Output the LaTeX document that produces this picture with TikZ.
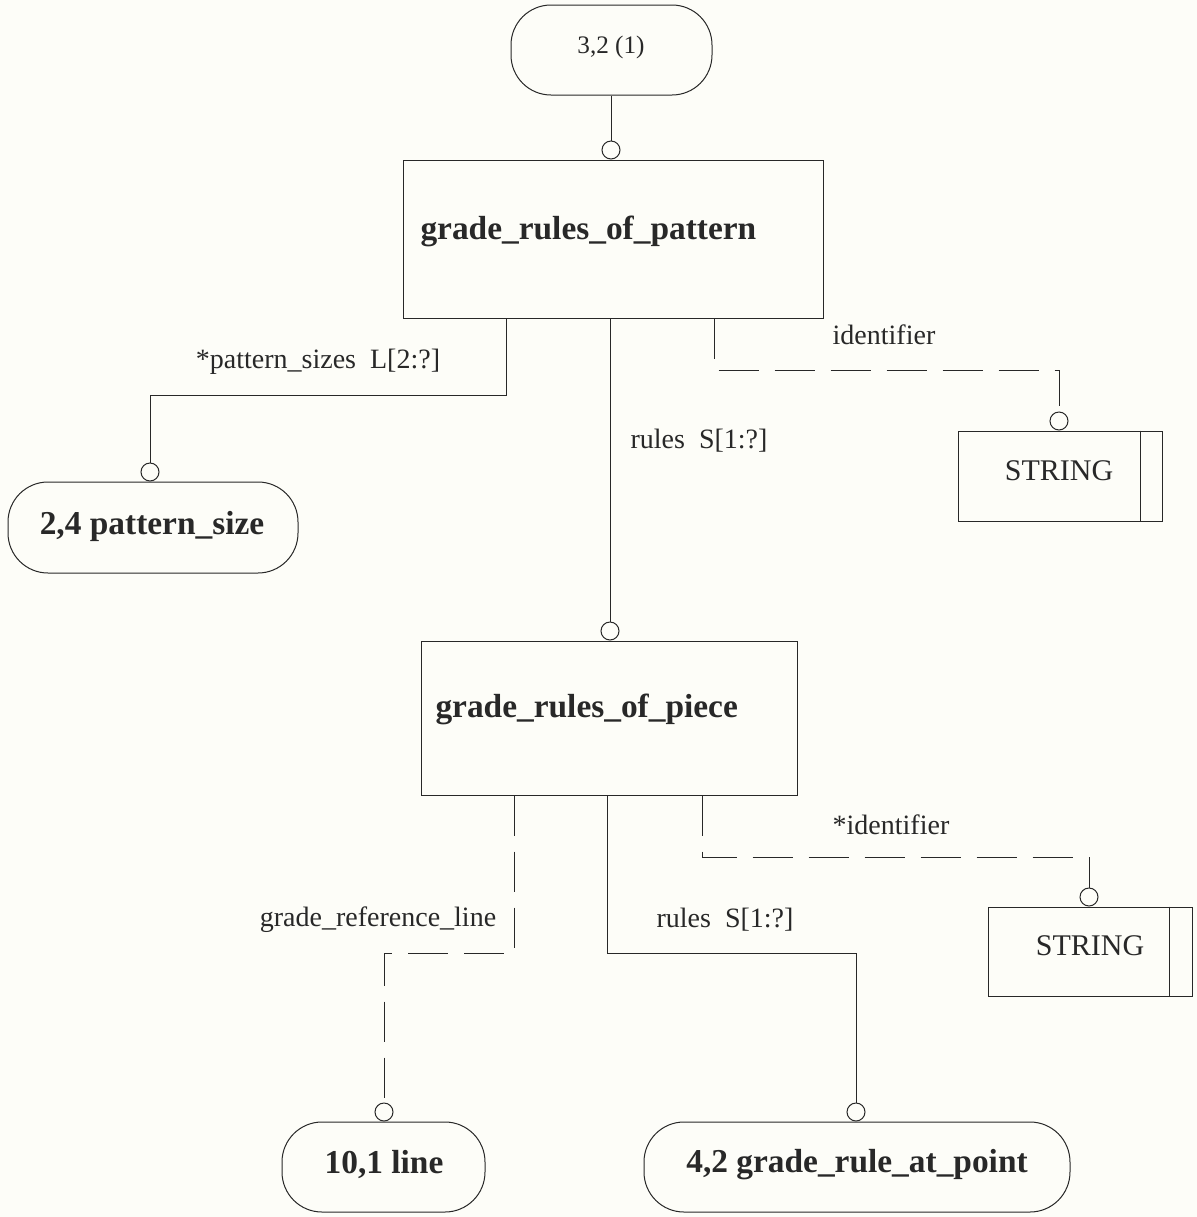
\documentclass[tikz,border=0pt]{standalone}
\usepackage{fontspec}
\setmainfont{Liberation Serif}
\usetikzlibrary{calc}
\definecolor{paper}{RGB}{253,253,248}
\definecolor{ink}{RGB}{40,40,40}
\newcommand\lblsize{\fontsize{14}{16}\selectfont}
\newcommand\boldsize{\fontsize{16.7}{19}\selectfont\bfseries}
\begin{document}
\begin{tikzpicture}[x=0.5pt,y=-0.5pt,
  line width=0.5pt, color=ink,
  entity/.style={draw, rectangle, inner sep=0pt, fill=paper},
  typebox/.style={draw, rectangle, inner sep=0pt, fill=paper, minimum width=102pt, minimum height=45pt},
  refbox/.style={draw, rectangle, rounded corners=20pt, inner sep=0pt, fill=paper, minimum height=45pt},
  knob/.style={draw, circle, inner sep=0pt, minimum size=9pt, fill=paper, anchor=south},
  lbl/.style={inner sep=0pt, font=\lblsize, text=ink},
  bold/.style={inner sep=0pt, font=\boldsize, text=ink},
  optional/.style={dash pattern=on 20pt off 8pt}
]
% page
\fill[paper] (0,0) rectangle (1197,1217);
\useasboundingbox (0,0) rectangle (1197,1217);

% boxes
\node[refbox, minimum width=100.5pt] (top) at (611.5,50) {};
\node[lbl, font=\fontsize{12.6}{14}\selectfont] (toptext) at (611,47) {3,2 (1)};

\node[entity, minimum width=210pt, minimum height=79pt] (gp) at (613,239) {};
\node[bold, anchor=west] (gptext) at (420,231) {grade\_rules\_of\_pattern};

\node[refbox, minimum width=145pt, minimum height=45.5pt] (ps) at (153,527.5) {};
\node[bold] (pstext) at (152,526) {2,4 pattern\_size};

\node[typebox] (s1) at (1060,476) {};
\draw (s1.north east) ++(-11pt,0) -- ($(s1.south east)+(-11pt,0)$);
\node[lbl, font=\fontsize{15}{17}\selectfont] (s1text) at (1059,471) {STRING};

\node[entity, minimum width=188pt, minimum height=77pt] (gpc) at (609,718) {};
\node[bold, anchor=west] (gpctext) at (435,709) {grade\_rules\_of\_piece};

\node[typebox, minimum height=44.5pt] (s2) at (1090,951.5) {};
\draw (s2.north east) ++(-11.5pt,0) -- ($(s2.south east)+(-11.5pt,0)$);
\node[lbl, font=\fontsize{15}{17}\selectfont] (s2text) at (1090,946) {STRING};

\node[refbox, minimum width=101.5pt] (ln) at (383.5,1167) {};
\node[bold] (lntext) at (384,1164) {10,1 line};

\node[refbox, minimum width=213pt] (gr) at (857,1167) {};
\node[bold] (grtext) at (857,1165) {4,2 grade\_rule\_at\_point};

% knobs on the receiving ends
\node[knob] (k0) at (gp.north -| 611,0) {};
\node[knob] (k1) at (ps.north -| 150,0) {};
\node[knob] (k2) at (gpc.north -| 610,0) {};
\node[knob] (k3) at (s1.north -| 1059,0) {};
\node[knob] (k4) at (ln.north -| 384,0) {};
\node[knob] (k5) at (gr.north -| 856,0) {};
\node[knob] (k6) at (s2.north -| 1089,0) {};

% connectors
\draw (top.south -| k0) -- (k0.north);
\draw (gp.south -| 506,0) -- (506,395) -| (k1.north);
\draw (gp.south -| k2) -- (k2.north);
\draw[optional] (gp.south -| 714,0) -- (714,370) -| (k3.north);
\draw[optional] (gpc.south -| 514,0) -- (514,953) -| (k4.north);
\draw (gpc.south -| 607,0) -- (607,953) -| (k5.north);
\draw[optional] (gpc.south -| 702,0) -- (702,857) -| (k6.north);

% attribute labels
\node[lbl] (l1) at (318,362) {*pattern\_sizes~~L[2:?]};
\node[lbl] (l2) at (699,441) {rules~~S[1:?]};
\node[lbl] (l3) at (884,335) {identifier};
\node[lbl] (l4) at (378,920) {grade\_reference\_line};
\node[lbl] (l5) at (725,920) {rules~~S[1:?]};
\node[lbl] (l6) at (891,825) {*identifier};
\end{tikzpicture}
\end{document}
